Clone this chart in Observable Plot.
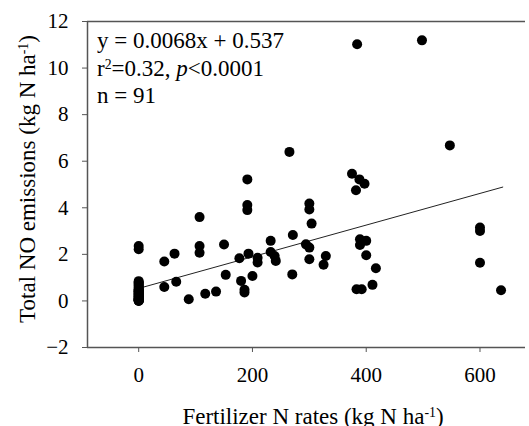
<!DOCTYPE html>
<html>
<head>
<meta charset="utf-8">
<script src="https://cdn.jsdelivr.net/npm/d3@7"></script>
<script src="https://cdn.jsdelivr.net/npm/@observablehq/plot@0.6"></script>
<style>
  html, body { margin: 0; padding: 0; background: white; overflow: hidden; }
</style>
</head>
<body>
<div id="chart"></div>
<script>
// Fertilizer N rate (kg N/ha) and total NO emissions (kg N/ha)
const nRates = [
  0,0,0,0,0,0,0,0,0,0,0,0,0,0,0,0,0,0,0,0,0,0,0,0,0,0,0,0,0,0,0,0,0,0,
  45,45,63,66,88,107,107,107,117,136,150,153,177,180,186,186,191,191,191,193,
  200,209,209,232,232,239,241,265,271,270,300,300,304,294,300,300,329,325,
  375,382,388,397,384,389,400,389,400,417,411,383,392,498,547,600,600,600,637
];
const noEmissions = [
  2.36,2.22,0.85,0.8,0.75,0.7,0.65,0.6,0.55,0.5,0.48,0.45,0.42,0.4,0.38,0.35,0.32,0.3,
  0.28,0.25,0.22,0.2,0.18,0.15,0.12,0.1,0.08,0.06,0.05,0.04,0.03,0.02,0.01,0.0,
  1.69,0.6,2.03,0.82,0.07,3.6,2.36,2.07,0.31,0.4,2.42,1.12,1.83,0.86,0.48,0.36,5.22,4.12,3.9,2.03,
  1.07,1.85,1.65,2.58,2.1,1.93,1.72,6.4,2.83,1.14,4.18,3.93,3.32,2.43,2.29,1.79,1.93,1.55,
  5.46,4.75,5.22,5.03,11.02,2.65,2.58,2.4,1.96,1.4,0.69,0.5,0.5,11.19,6.68,3.15,3.0,1.64,0.46
];
// Fitted regression reported on the chart: y = 0.0068x + 0.537
const slope = 0.0068, intercept = 0.537;
const fitRange = [0, 640];
const xTicks = [0, 200, 400, 600];
const yTicks = [-2, 0, 2, 4, 6, 8, 10, 12];
const xDomain = [-90, 680];
const yDomain = [-2, 12];

const points = nRates.map((x, i) => ({x, y: noEmissions[i]}));
const fit = fitRange.map(x => ({x, y: slope * x + intercept}));

const FONT = "Liberation Serif";
const chart = Plot.plot({
  width: 529,
  height: 426,
  marginLeft: 87,
  marginRight: 4,
  marginTop: 21,
  marginBottom: 79,
  style: {fontFamily: FONT, fontSize: "21px", background: "white", color: "black"},
  x: {domain: xDomain, label: null},
  y: {domain: yDomain, label: null},
  marks: [
    Plot.axisX({ticks: xTicks, tickSize: 5, tickPadding: 15, label: null, stroke: "#555", fill: "black", fontSize: 21, fontFamily: FONT}),
    Plot.axisY({ticks: yTicks, tickSize: 5, tickPadding: 14, label: null, stroke: "#555", fill: "black", fontSize: 21, fontFamily: FONT}),
    Plot.ruleY([yDomain[0]], {stroke: "#555", strokeWidth: 1.5}),
    Plot.ruleY([yDomain[1]], {stroke: "#555", strokeWidth: 1.5}),
    Plot.ruleX([xDomain[0]], {stroke: "#555", strokeWidth: 1.5}),
    Plot.line(fit, {x: "x", y: "y", stroke: "#222", strokeWidth: 1}),
    Plot.dot(points, {x: "x", y: "y", r: 5, fill: "black", stroke: "none"})
  ]
});
document.getElementById("chart").appendChild(chart);

const svg = d3.select(chart);

function addText(g, parts) {
  parts.forEach(p => {
    const t = g.append("tspan").text(p.t);
    if (p.sup) t.attr("dy", "-0.5em").attr("font-size", "0.6em");
    if (p.back) t.attr("dy", "0.3em");
    if (p.italic) t.attr("font-style", "italic");
  });
}
function makeText(x, y, size, anchor) {
  return svg.append("text")
    .attr("x", x).attr("y", y)
    .attr("text-anchor", anchor)
    .attr("font-family", FONT)
    .attr("font-size", size)
    .attr("fill", "black");
}

// X axis title
const xt = makeText(313, 424, 23, "middle");
addText(xt, [{t: "Fertilizer N rates (kg N ha"}, {t: "-1", sup: true}, {t: ")", back: true}]);

// Y axis title
const yt = makeText(0, 0, 23, "middle").attr("transform", "translate(35,179) rotate(-90)");
addText(yt, [{t: "Total NO emissions (kg N ha"}, {t: "-1", sup: true}, {t: ")", back: true}]);

// Annotation
const ax = 97;
addText(makeText(ax, 48, 23, "start"), [{t: "y = 0.0068x + 0.537"}]);
addText(makeText(ax, 76, 23, "start"), [{t: "r"}, {t: "2", sup: true}, {t: "=0.32, ", back: true}, {t: "p", italic: true}, {t: "<0.0001"}]);
addText(makeText(ax, 103, 23, "start"), [{t: "n = 91"}]);
</script>
</body>
</html>
